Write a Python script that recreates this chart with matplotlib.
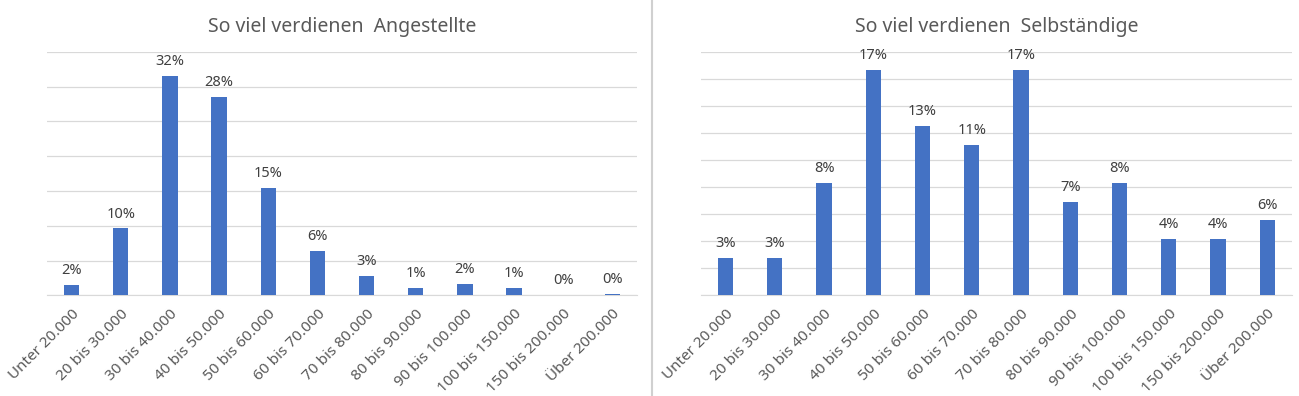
import matplotlib

matplotlib.use('Agg')
import matplotlib.pyplot as plt
from matplotlib.lines import Line2D

# ----- data --------------------------------------------------------------
CATEGORIES = ['Unter 20.000', '20 bis 30.000', '30 bis 40.000', '40 bis 50.000',
              '50 bis 60.000', '60 bis 70.000', '70 bis 80.000', '80 bis 90.000',
              '90 bis 100.000', '100 bis 150.000', '150 bis 200.000', 'Über 200.000']
ANGESTELLTE = [1.55, 9.6, 31.5, 28.5, 15.4, 6.4, 2.8, 1.05, 1.65, 1.05, 0.0, 0.2]
ANGESTELLTE_LABELS = ['2%', '10%', '32%', '28%', '15%', '6%', '3%', '1%', '2%',
                      '1%', '0%', '0%']
SELBSTAENDIGE = [2.76, 2.76, 8.3, 16.65, 12.5, 11.1, 16.65, 6.9, 8.3, 4.16, 4.16, 5.56]
SELBSTAENDIGE_LABELS = ['3%', '3%', '8%', '17%', '13%', '11%', '17%', '7%', '8%',
                        '4%', '4%', '6%']
# -------------------------------------------------------------------------

BAR_COLOR = '#4472C4'
GRID_COLOR = '#d9d9d9'
TEXT_COLOR = '#595959'
LABEL_COLOR = '#404040'

plt.rcParams['font.family'] = ['Noto Sans', 'DejaVu Sans']


def panel(ax, title, values, labels, ymax, step):
    x = range(len(CATEGORIES))
    ax.bar(x, values, width=0.31, color=BAR_COLOR, zorder=3)
    ax.set_xlim(-0.5, len(CATEGORIES) - 0.5)
    ax.set_ylim(0, ymax)
    ax.set_yticks([i * step for i in range(int(ymax / step) + 1)])
    ax.yaxis.grid(True, color=GRID_COLOR, lw=0.9, zorder=0)
    ax.tick_params(axis='y', left=False, labelleft=False)
    ax.tick_params(axis='x', length=0, pad=8, labelsize=11, colors=TEXT_COLOR)
    ax.set_xticks(list(x))
    ax.set_xticklabels(CATEGORIES, rotation=45, ha='right',
                       rotation_mode='anchor')
    for s in ('top', 'right', 'left'):
        ax.spines[s].set_visible(False)
    ax.spines['bottom'].set_color(GRID_COLOR)
    for xi, v, lab in zip(x, values, labels):
        ax.annotate(lab, (xi, v), xytext=(0, 5), textcoords='offset points',
                    ha='center', va='bottom', fontsize=10.5, color=LABEL_COLOR)
    ax.set_title(title, fontsize=14, color=TEXT_COLOR, pad=14)


fig = plt.figure(figsize=(12.99, 3.96), dpi=100)
ax1 = fig.add_axes([0.0362, 0.2543, 0.4542, 0.615])
ax2 = fig.add_axes([0.5396, 0.2543, 0.455, 0.615])
panel(ax1, 'So viel verdienen  Angestellte', ANGESTELLTE, ANGESTELLTE_LABELS, 35, 5)
panel(ax2, 'So viel verdienen  Selbständige', SELBSTAENDIGE, SELBSTAENDIGE_LABELS, 18, 2)

fig.add_artist(Line2D([652 / 1299, 652 / 1299], [0, 1], color='#d0d0d0', lw=1.5))

fig.savefig('out.png', dpi=100)
